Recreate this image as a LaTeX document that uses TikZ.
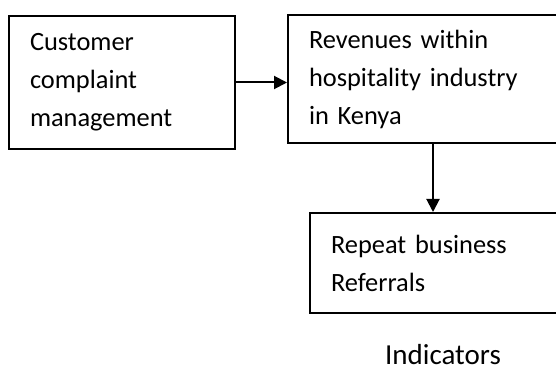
\documentclass[tikz,border=0pt]{standalone}
\usepackage{fontspec}
\setmainfont{Carlito}
\usetikzlibrary{arrows.meta,positioning}
\tikzset{x=1pt, y=-1pt,
    factorBox/.style={draw, line width=2pt, anchor=north west, align=left,
        inner xsep=21pt, inner ysep=0pt,
        font=\fontsize{26.4}{38}\selectfont},
    link/.style={line width=2pt, -{Triangle[length=13pt, width=13pt]}},
    }

\begin{document}
\begin{tikzpicture}
	\useasboundingbox (0,0) rectangle (556,371);
	\node[factorBox, minimum width=226pt, minimum height=133pt, text width=184pt]
		(complaintMgmt) at (8,15) {Customer\\complaint\\management};
	\node[factorBox, minimum width=290pt, minimum height=128pt, text width=248pt]
		(revenues) at (287,14) {Revenues within\\hospitality industry\\in Kenya};
	\node[factorBox, minimum width=290pt, minimum height=100pt, text width=248pt]
		(indicatorList) at (309,212) {Repeat business\\Referrals};
	\node[font=\fontsize{29}{34}\selectfont, anchor=base, inner sep=0pt] (indicatorTitle) at (443,364) {Indicators};
	\draw[link] (complaintMgmt.east) -- (complaintMgmt.east -| revenues.west);
	\draw[link] (revenues.south) -- (revenues.south |- indicatorList.north);
\end{tikzpicture}
\end{document}
